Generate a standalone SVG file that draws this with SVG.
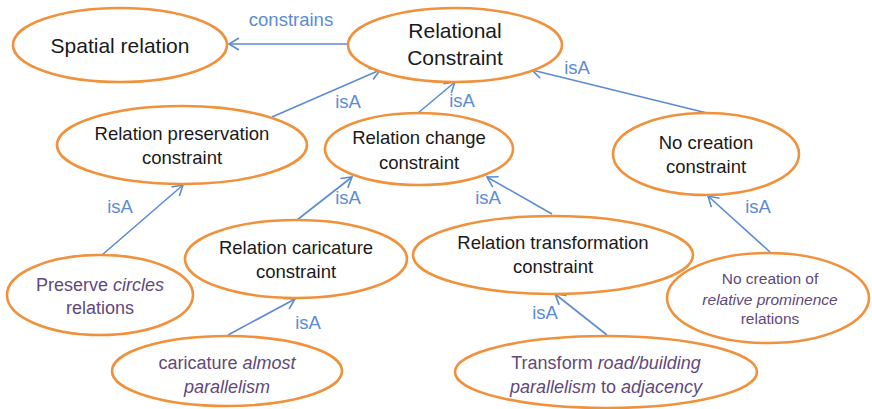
<svg xmlns="http://www.w3.org/2000/svg" width="872" height="409" viewBox="0 0 872 409">
<style>
.n ellipse{fill:#fff;stroke:#f0913c;stroke-width:2.6}
text{font-family:"Liberation Sans",Arial,sans-serif;text-anchor:middle}
.b{fill:#1a1a1a;font-size:18.5px}
.t{fill:#1a1a1a;font-size:21px}
.p{fill:#60497c;font-size:18px}
.s{fill:#60497c;font-size:15.5px}
.l{fill:#5b8bd3;font-size:18.5px}
.c line{stroke:#5b8bd3;stroke-width:1.6;marker-end:url(#ah)}
</style>
<defs>
<marker id="ah" markerUnits="userSpaceOnUse" markerWidth="16" markerHeight="16" viewBox="0 0 16 16" refX="13" refY="8" orient="auto">
<path d="M3,2 L13,8 L3,14" fill="none" stroke="#5b8bd3" stroke-width="1.6"/>
</marker>
</defs>
<rect width="872" height="409" fill="#fff"/>
<g class="c" id="connectors">
<line x1="348" y1="44" x2="229" y2="44"/>
<line x1="272" y1="117" x2="380" y2="70"/>
<line x1="418" y1="113" x2="455" y2="82"/>
<line x1="707" y1="113" x2="532" y2="70"/>
<line x1="102" y1="255" x2="183" y2="185"/>
<line x1="297" y1="220" x2="352" y2="177"/>
<line x1="552" y1="214" x2="487" y2="177"/>
<line x1="770" y1="252" x2="708" y2="196"/>
<line x1="228" y1="335" x2="295" y2="299"/>
<line x1="607" y1="335" x2="555" y2="294"/>
<text class="l" x="291" y="26">constrains</text>
<text class="l" x="348" y="108">isA</text>
<text class="l" x="462" y="107">isA</text>
<text class="l" x="577" y="74">isA</text>
<text class="l" x="120" y="213">isA</text>
<text class="l" x="348" y="204">isA</text>
<text class="l" x="488" y="204">isA</text>
<text class="l" x="758" y="213">isA</text>
<text class="l" x="308" y="329">isA</text>
<text class="l" x="545" y="319">isA</text>
</g>
<g class="n" id="spatial-relation">
<ellipse cx="120" cy="45" rx="107" ry="37"/>
<text class="t" x="120" y="52.5">Spatial relation</text>
</g>
<g class="n" id="relational-constraint">
<ellipse cx="455" cy="45" rx="107" ry="37"/>
<text class="t" x="455" y="38">Relational</text>
<text class="t" x="455" y="65">Constraint</text>
</g>
<g class="n" id="relation-preservation">
<ellipse cx="182" cy="145" rx="125" ry="39"/>
<text class="b" x="182" y="139.5">Relation preservation</text>
<text class="b" x="182" y="163.5">constraint</text>
</g>
<g class="n" id="relation-change">
<ellipse cx="419" cy="149" rx="94" ry="36"/>
<text class="b" x="419" y="144">Relation change</text>
<text class="b" x="419" y="168.5">constraint</text>
</g>
<g class="n" id="no-creation">
<ellipse cx="706" cy="154" rx="93" ry="41"/>
<text class="b" x="706" y="149">No creation</text>
<text class="b" x="706" y="173">constraint</text>
</g>
<g class="n" id="preserve-circles">
<ellipse cx="100" cy="295" rx="93" ry="40"/>
<text class="p" x="100" y="291">Preserve <tspan font-style="italic">circles</tspan></text>
<text class="p" x="100" y="314">relations</text>
</g>
<g class="n" id="relation-caricature">
<ellipse cx="296" cy="259" rx="111" ry="39"/>
<text class="b" x="296" y="254">Relation caricature</text>
<text class="b" x="296" y="278">constraint</text>
</g>
<g class="n" id="caricature-almost">
<ellipse cx="227" cy="371" rx="115" ry="35"/>
<text class="p" x="227" y="369">caricature <tspan font-style="italic">almost</tspan></text>
<text class="p" x="227" y="393" font-style="italic">parallelism</text>
</g>
<g class="n" id="relation-transformation">
<ellipse cx="553" cy="255" rx="140" ry="39"/>
<text class="b" x="553" y="249">Relation transformation</text>
<text class="b" x="553" y="273">constraint</text>
</g>
<g class="n" id="no-creation-prominence">
<ellipse cx="768" cy="298" rx="101" ry="45"/>
<text class="s" x="770" y="283.5">No creation of</text>
<text class="s" x="770" y="304.5" font-style="italic">relative prominence</text>
<text class="s" x="770" y="323.5">relations</text>
</g>
<g class="n" id="transform-road">
<ellipse cx="606" cy="372" rx="151" ry="36"/>
<text class="p" x="606" y="369">Transform <tspan font-style="italic">road/building</tspan></text>
<text class="p" x="606" y="393"><tspan font-style="italic">parallelism</tspan> to <tspan font-style="italic">adjacency</tspan></text>
</g>
</svg>
